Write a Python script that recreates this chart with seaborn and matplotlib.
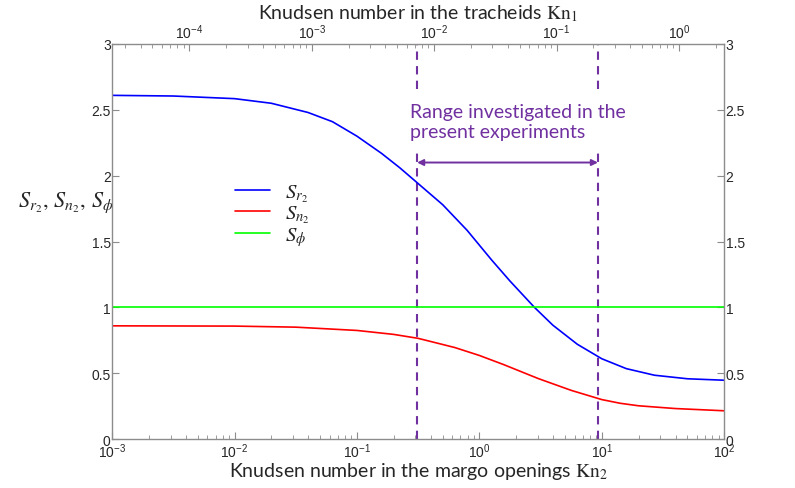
import numpy as np
import pandas as pd
import matplotlib
matplotlib.use("Agg")
import matplotlib.pyplot as plt
import seaborn as sns
from matplotlib.ticker import LogLocator, FormatStrFormatter, NullFormatter

sns.set_style("white")
plt.rcParams['font.family'] = ['Liberation Sans', 'DejaVu Sans']
plt.rcParams['mathtext.fontset'] = 'stix'

# (log10 of Kn2, value)
sr2_logkn = [-3.0, -2.5, -2.0, -1.7, -1.4, -1.2, -1.0, -0.8, -0.65, -0.5, -0.3,
             -0.1, 0.1, 0.25, 0.45, 0.6, 0.8, 1.0, 1.2, 1.43, 1.7, 2.0]
sr2_vals = [2.61, 2.605, 2.585, 2.55, 2.48, 2.41, 2.30, 2.17, 2.06, 1.94, 1.78,
            1.585, 1.36, 1.20, 1.00, 0.865, 0.72, 0.61, 0.535, 0.485, 0.458, 0.447]

sn2_logkn = [-3.0, -2.0, -1.5, -1.0, -0.7, -0.5, -0.2, 0.0, 0.2, 0.48, 0.75,
             1.0, 1.15, 1.3, 1.6, 2.0]
sn2_vals = [0.86, 0.858, 0.85, 0.825, 0.795, 0.765, 0.695, 0.635, 0.565, 0.46,
            0.37, 0.30, 0.272, 0.253, 0.232, 0.215]

sphi_logkn = [-3.0, 2.0]
sphi_vals = [1.0, 1.0]

range_kn2 = [0.31, 9.3]          # investigated range (bottom axis)
kn1_xlim = (10 ** -4.63, 10 ** 0.37)
y_ticks = [0, 0.5, 1, 1.5, 2, 2.5, 3]

purple = '#7030A0'
spine_grey = '#8c8c8c'
label_font = ['Lato', 'DejaVu Sans']

fig = plt.figure(figsize=(7.95, 4.89), dpi=100)
ax = fig.add_axes([0.141, 0.100, 0.770, 0.808])

sns.lineplot(x=10.0 ** np.array(sr2_logkn), y=sr2_vals, ax=ax, color='#0000FF',
             lw=1.2, label=r'$S_{r_2}$')
sns.lineplot(x=10.0 ** np.array(sn2_logkn), y=sn2_vals, ax=ax, color='#FF0000',
             lw=1.2, label=r'$S_{n_2}$')
sns.lineplot(x=10.0 ** np.array(sphi_logkn), y=sphi_vals, ax=ax, color='#00FF00',
             lw=1.2, label=r'$S_{\phi}$')

ax.set_xscale('log')
ax.set_xlim(1e-3, 1e2)
ax.set_ylim(0, 3)

# dashed range markers
for xv in range_kn2:
    ax.axvline(xv, color=purple, ls=(0, (4, 3)), lw=1.5, zorder=1)

ax.annotate('', xy=(range_kn2[1], 2.1), xytext=(range_kn2[0], 2.1),
            arrowprops=dict(arrowstyle='<|-|>', color=purple, lw=1.4,
                            mutation_scale=9, shrinkA=0, shrinkB=0))
ax.text(0.27, 2.41, 'Range investigated in the\npresent experiments',
        ha='left', va='center', color=purple, fontsize=14,
        family=label_font, linespacing=1.2,
        bbox=dict(facecolor='white', edgecolor='none', pad=6), zorder=3)

# axes styling
for sp in ax.spines.values():
    sp.set_color(spine_grey)
    sp.set_linewidth(1.0)
ax.set_yticks(y_ticks)
ax.yaxis.set_major_formatter(FormatStrFormatter('%g'))
ax.tick_params(axis='both', which='both', direction='in', color=spine_grey,
               labelsize=10, right=True, labelright=True, left=True)
ax.tick_params(axis='x', which='major', length=5, pad=2)
ax.tick_params(axis='x', which='minor', length=3)
ax.tick_params(axis='y', which='major', length=5, pad=1)
ax.xaxis.set_major_locator(LogLocator(base=10, numticks=10))
ax.xaxis.set_minor_locator(LogLocator(base=10, subs=np.arange(2, 10), numticks=10))
ax.xaxis.set_minor_formatter(NullFormatter())

ax.set_xlabel(r'Knudsen number in the margo openings $\mathrm{Kn}_2$', fontsize=14,
              family=label_font, labelpad=0)
ax.set_ylabel(r'$S_{r_2},\, S_{n_2},\, S_{\phi}$', fontsize=16, rotation=0,
              labelpad=10)
ax.yaxis.set_label_coords(-0.075, 0.57)

leg = ax.legend(loc='upper left', bbox_to_anchor=(0.17, 0.698), frameon=False,
                fontsize=15, handlelength=1.7, handletextpad=0.7,
                labelspacing=0.0)

# top axis: Knudsen number in the tracheids
ax2 = ax.twiny()
ax2.set_xscale('log')
ax2.set_xlim(*kn1_xlim)
ax2.xaxis.set_major_locator(LogLocator(base=10, numticks=10))
ax2.xaxis.set_minor_locator(LogLocator(base=10, subs=np.arange(2, 10), numticks=10))
ax2.xaxis.set_minor_formatter(NullFormatter())
ax2.tick_params(axis='x', which='both', direction='in', color=spine_grey,
                labelsize=10)
ax2.tick_params(axis='x', which='major', length=5, pad=2)
ax2.tick_params(axis='x', which='minor', length=3)
for sp in ax2.spines.values():
    sp.set_visible(False)
ax2.set_xlabel(r'Knudsen number in the tracheids $\mathrm{Kn}_1$', fontsize=14,
               family=label_font, labelpad=3)

fig.savefig('out.png', dpi=100)
